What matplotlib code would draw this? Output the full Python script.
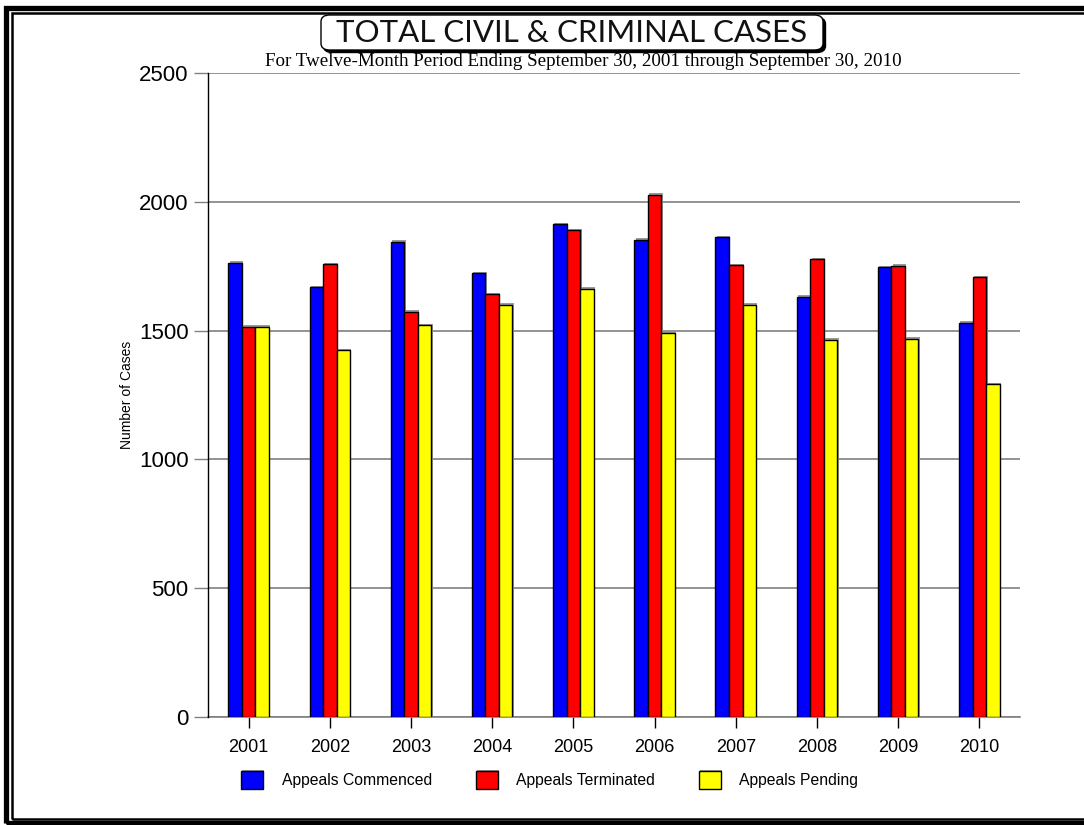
import matplotlib
matplotlib.use("Agg")
import matplotlib.pyplot as plt
import matplotlib.patheffects as pe
from matplotlib.patches import Rectangle, FancyBboxPatch
import numpy as np

years = ["2001", "2002", "2003", "2004", "2005", "2006", "2007", "2008", "2009", "2010"]
commenced = [1764, 1668, 1845, 1724, 1913, 1853, 1863, 1632, 1747, 1530]
terminated = [1515, 1758, 1574, 1642, 1890, 2027, 1754, 1778, 1752, 1707]
pending = [1515, 1425, 1522, 1601, 1663, 1490, 1601, 1465, 1468, 1291]

series = [
    ("Appeals Commenced", commenced, "#0000ff"),
    ("Appeals Terminated", terminated, "#ff0000"),
    ("Appeals Pending", pending, "#ffff00"),
]

plt.rcParams.update({
    "font.family": ["Liberation Sans", "DejaVu Sans"],
})

W, H = 1084, 825
fig = plt.figure(figsize=(W / 100, H / 100), dpi=100)
ax = fig.add_axes([208 / W, 1 - 717 / H, (1020 - 208) / W, (717 - 73) / H])

x = np.arange(len(years))
bw = 1 / 6
shadow = [pe.SimplePatchShadow(offset=(1, 1), shadow_rgbFace="#9a9a9a", alpha=1), pe.Normal()]
handles = []
for i, (label, vals, color) in enumerate(series):
    bars = ax.bar(x + (i - 1) * bw, vals, width=bw, color=color,
                  edgecolor="black", linewidth=1.0, label=label, zorder=3)
    for b in bars:
        b.set_path_effects(shadow)
    handles.append(bars)

ax.set_xlim(-0.5, len(years) - 0.5)
ax.set_ylim(0, 2500)
ax.set_yticks([0, 500, 1000, 1500, 2000, 2500])
ax.set_xticks(x)
ax.set_xticklabels(years)
ax.yaxis.grid(True, color="#808080", lw=1.2, zorder=0)
ax.set_axisbelow(True)

for s in ["top", "right"]:
    ax.spines[s].set_visible(False)
ax.spines["left"].set_color("black")
ax.spines["left"].set_linewidth(1.0)
ax.spines["left"].set_zorder(4)
ax.spines["bottom"].set_color("#808080")
ax.spines["bottom"].set_linewidth(1.2)

ax.tick_params(axis="y", length=10, width=1.0, color="#808080", labelsize=16, pad=4)
ax.tick_params(axis="x", length=8, width=1.0, color="black", labelsize=13, pad=8)

ax.set_ylabel("Number of Cases", fontsize=10)
ax.yaxis.set_label_coords((134 - 208) / (1020 - 208), 0.5)

leg = ax.legend(handles=handles, loc="center left",
                bbox_to_anchor=(241 / W, 1 - 780 / H), bbox_transform=fig.transFigure,
                ncol=3, frameon=False, fontsize=11.3, handlelength=1.4, handleheight=1.4,
                handletextpad=1.2, columnspacing=2.77, borderaxespad=0, borderpad=0)

# title box with drop shadow
box_x0, box_x1, box_y0, box_y1 = 321, 823, 15, 50
sh = FancyBboxPatch((box_x0 / W + 2.5 / W, 1 - box_y1 / H - 2.5 / H),
                    (box_x1 - box_x0) / W, (box_y1 - box_y0) / H,
                    boxstyle="round,pad=0,rounding_size=0.008", transform=fig.transFigure,
                    facecolor="black", edgecolor="black", lw=1.0)
bx = FancyBboxPatch((box_x0 / W, 1 - box_y1 / H),
                    (box_x1 - box_x0) / W, (box_y1 - box_y0) / H,
                    boxstyle="round,pad=0,rounding_size=0.008", transform=fig.transFigure,
                    facecolor="white", edgecolor="black", lw=1.0)
fig.patches.extend([sh, bx])
fig.text((box_x0 + box_x1) / 2 / W, 1 - 33 / H, "TOTAL CIVIL & CRIMINAL CASES",
         ha="center", va="center", fontsize=22.5, family=["Lato", "DejaVu Sans"],
         color="#111111")
fig.text(583.5 / W, 1 - 62 / H,
         "For Twelve-Month Period Ending September 30, 2001 through September 30, 2010",
         ha="center", va="center", fontsize=13.7, family=["Liberation Serif", "DejaVu Serif"])

# double frame around the picture
fig.patches.append(Rectangle((6 / W, 1 - 823 / H), 1.2, (823 - 8) / H,
                             transform=fig.transFigure, fill=False, ec="black", lw=3.8))
fig.patches.append(Rectangle((12 / W, 1 - 818.5 / H), 1.2, (818.5 - 13) / H,
                             transform=fig.transFigure, fill=False, ec="black", lw=1.8))

fig.savefig("out.png", dpi=100)
